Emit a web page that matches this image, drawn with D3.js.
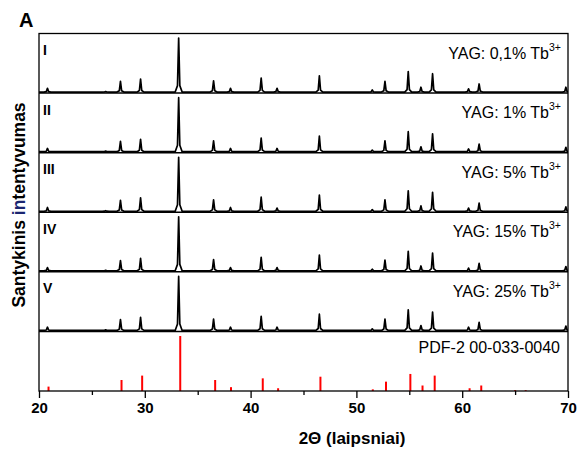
<!DOCTYPE html>
<html>
<head>
<meta charset="utf-8">
<script src="https://cdn.jsdelivr.net/npm/d3@7"></script>
<style>
  html, body { margin: 0; padding: 0; background: #fff; }
  svg { display: block; font-family: "Liberation Sans", Arial, sans-serif; }
</style>
</head>
<body>
<svg id="chart" width="578" height="451"></svg>
<script>
// Stacked XRD patterns of YAG:Tb3+ with the PDF-2 00-033-0040 reference card.

const panelLabels = ["I", "II", "III", "IV", "V"];
const sampleNames = ["YAG: 0,1% Tb", "YAG: 1% Tb", "YAG: 5% Tb", "YAG: 15% Tb", "YAG: 25% Tb"];
const referenceName = "PDF-2 00-033-0040";

// Reflection positions (2θ, degrees) seen in the measured patterns
const peakPositions = [20.8, 26.3, 27.7, 29.6, 33.2, 36.5, 38.1, 41.0, 42.5, 46.5, 51.5, 52.7, 54.9, 56.1, 57.2, 60.6, 61.6, 69.8];

// Relative intensities (%) for each sample, same order as peakPositions
const intensitiesI   = [7, 1, 20, 24, 100, 21, 7, 26, 7, 30, 4, 20, 38, 9, 34, 6, 15, 9];
const intensitiesII  = [6, 1, 19, 23, 100, 20, 6, 25, 6, 29, 3, 20, 37, 9, 33, 5, 14, 8];
const intensitiesIII = [7, 1, 20, 25, 100, 21, 7, 26, 6, 30, 3, 21, 38, 10, 35, 6, 15, 8];
const intensitiesIV  = [6, 1, 19, 23, 100, 21, 6, 25, 6, 29, 3, 20, 36, 9, 33, 5, 14, 8];
const intensitiesV   = [6, 1, 20, 24, 100, 21, 6, 26, 6, 30, 3, 21, 38, 9, 34, 6, 15, 8];
const sampleIntensities = [intensitiesI, intensitiesII, intensitiesIII, intensitiesIV, intensitiesV];

// Reference card lines (2θ, degrees) and relative intensities (%)
const refPositions   = [20.9, 27.8, 29.75, 33.35, 36.65, 38.15, 41.15, 42.6, 46.6, 51.55, 52.8, 55.1, 56.25, 57.4, 60.7, 61.8, 65.0, 66.0];
const refIntensities = [8, 20, 28, 100, 20, 7, 23, 5, 26, 3, 17, 31, 10, 28, 5, 10, 1.5, 1.5];

const xMajorTicks = [20, 30, 40, 50, 60, 70];
const xMinorTicks = [25, 35, 45, 55, 65];

// ---- layout ----
const plotLeft = 39, plotRight = 568, plotTop = 33.5, plotBottom = 391;
const nPanels = 6;
const panelH = (plotBottom - plotTop) / nPanels;

const svg = d3.select("#chart");

const x = d3.scaleLinear().domain([20, 70]).range([plotLeft, plotRight]);

svg.append("defs").append("clipPath").attr("id", "plotClip")
  .append("rect").attr("x", plotLeft).attr("y", plotTop)
  .attr("width", plotRight - plotLeft).attr("height", plotBottom - plotTop);

// Peak outline: narrow apex on a slightly wider foot
const halfFoot = 0.33, halfShoulder = 0.11, shoulderFrac = 0.12;
function profile(positions, heights) {
  const pts = [[20, 0]];
  positions.forEach((p, i) => {
    const h = heights[i];
    pts.push([p - halfFoot, 0], [p - halfShoulder, h * shoulderFrac], [p, h],
             [p + halfShoulder, h * shoulderFrac], [p + halfFoot, 0]);
  });
  pts.push([70, 0]);
  return pts;
}

const plot = svg.append("g").attr("clip-path", "url(#plotClip)");

sampleIntensities.forEach((vals, i) => {
  const pBottom = plotTop + (i + 1) * panelH;
  const y = d3.scaleLinear().domain([0, 100]).range([pBottom - 1, pBottom - 55]);
  const line = d3.line().x(d => x(d[0])).y(d => y(d[1]));
  plot.append("path")
    .datum(profile(peakPositions, vals))
    .attr("d", line)
    .attr("fill", "none")
    .attr("stroke", "#000")
    .attr("stroke-width", 1.7)
    .attr("stroke-linejoin", "round");
});

// Reference card sticks
{
  const y = d3.scaleLinear().domain([0, 100]).range([plotBottom, plotBottom - 55]);
  plot.selectAll("line.ref")
    .data(refPositions.map((p, i) => ({ p, v: refIntensities[i] })))
    .join("line")
    .attr("class", "ref")
    .attr("x1", d => x(d.p)).attr("x2", d => x(d.p))
    .attr("y1", y(0)).attr("y2", d => y(d.v))
    .attr("stroke", "#ff0000")
    .attr("stroke-width", 2);
}

// Panel separators and frame
for (let i = 1; i < nPanels; i++) {
  const yy = plotTop + i * panelH;
  svg.append("line").attr("x1", plotLeft).attr("x2", plotRight).attr("y1", yy).attr("y2", yy)
    .attr("stroke", "#000").attr("stroke-width", 1.5);
}
svg.append("rect").attr("x", plotLeft).attr("y", plotTop)
  .attr("width", plotRight - plotLeft).attr("height", plotBottom - plotTop)
  .attr("fill", "none").attr("stroke", "#000").attr("stroke-width", 1.3);

// Bottom axis with major and minor ticks
const axisMajor = d3.axisBottom(x).tickValues(xMajorTicks).tickSize(7).tickPadding(4).tickFormat(d3.format("d"));
const gx = svg.append("g").attr("transform", `translate(0,${plotBottom})`).call(axisMajor);
gx.select(".domain").remove();
gx.selectAll(".tick line").attr("stroke", "#000").attr("stroke-width", 1.3);
gx.selectAll(".tick text")
  .attr("font-family", "'Liberation Sans', Arial, sans-serif")
  .attr("font-size", 15).attr("font-weight", "bold").attr("fill", "#000");

const axisMinor = d3.axisBottom(x).tickValues(xMinorTicks).tickSize(4).tickFormat("");
const gm = svg.append("g").attr("transform", `translate(0,${plotBottom})`).call(axisMinor);
gm.select(".domain").remove();
gm.selectAll(".tick line").attr("stroke", "#000").attr("stroke-width", 1.3);

// Panel numerals and sample names
panelLabels.forEach((lab, i) => {
  const pTop = plotTop + i * panelH;
  svg.append("text").attr("x", 43).attr("y", pTop + 21.5)
    .attr("font-size", 14).attr("font-weight", "bold").text(lab);
  const t = svg.append("text").attr("x", 561).attr("y", pTop + 25)
    .attr("text-anchor", "end").attr("font-size", 16);
  t.append("tspan").text(sampleNames[i]);
  t.append("tspan").attr("font-size", 10.5).attr("dy", -8).text("3+");
});

svg.append("text").attr("x", 560).attr("y", plotTop + 5 * panelH + 22)
  .attr("text-anchor", "end").attr("font-size", 16).text(referenceName);

// Axis titles and figure letter
svg.append("text").attr("x", 352).attr("y", 444).attr("text-anchor", "middle")
  .attr("font-size", 17).attr("font-weight", "bold").text("2Θ (laipsniai)");

const yt = svg.append("text")
  .attr("transform", "translate(25,205) rotate(-90)")
  .attr("text-anchor", "middle").attr("font-size", 17.5).attr("font-weight", "bold");
yt.append("tspan").text("Santykinis ");
yt.append("tspan").attr("fill", "#1a2570").text("in");
yt.append("tspan").text("tentyvumas");

svg.append("text").attr("x", 19).attr("y", 27)
  .attr("font-size", 20).attr("font-weight", "bold").text("A");
</script>
</body>
</html>
